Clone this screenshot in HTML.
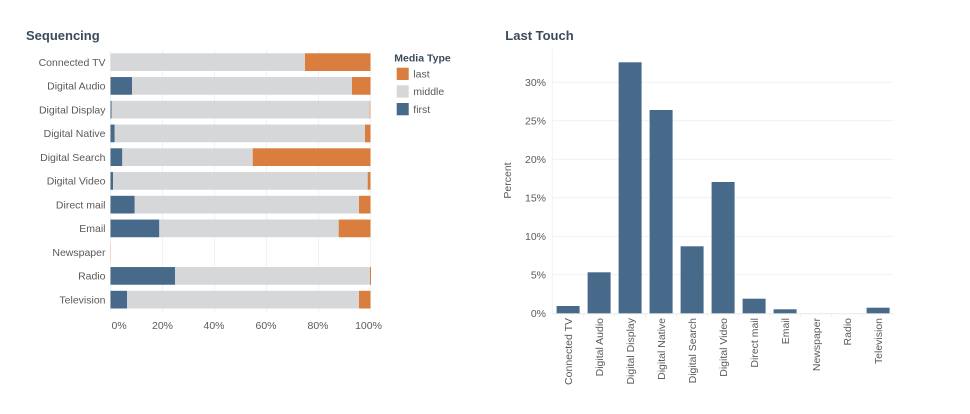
<!DOCTYPE html>
<html><head><meta charset="utf-8"><style>
html,body{margin:0;padding:0;background:#fff;}
svg{display:block;font-family:"Liberation Sans",sans-serif;}
.lbl{font-size:10.5px;fill:#5a5a5a;}
.ttl{font-size:13px;font-weight:bold;fill:#3b4a5e;}
</style></head><body>
<svg width="970" height="414" viewBox="0 0 970 414" xmlns="http://www.w3.org/2000/svg">
<rect width="970" height="414" fill="#fff"/>
<text class="ttl" x="26" y="40">Sequencing</text>
<!-- left grid -->
<g stroke="#f1f1f1" stroke-width="1">
<line x1="110.5" y1="50" x2="110.5" y2="312"/>
<line x1="162.5" y1="50" x2="162.5" y2="312"/>
<line x1="214.5" y1="50" x2="214.5" y2="312"/>
<line x1="266.5" y1="50" x2="266.5" y2="312"/>
<line x1="318.5" y1="50" x2="318.5" y2="312"/>
<line x1="370.5" y1="50" x2="370.5" y2="312"/>
</g>
<g>
<!-- CTV -->
<rect x="110.5" y="53.3" width="194.5" height="17.7" fill="#d6d7d9"/>
<rect x="305" y="53.3" width="65.5" height="17.7" fill="#d97e3e"/>
<!-- DA -->
<rect x="110.5" y="77.05" width="21.5" height="17.7" fill="#486a8a"/>
<rect x="132" y="77.05" width="220" height="17.7" fill="#d6d7d9"/>
<rect x="352" y="77.05" width="18.5" height="17.7" fill="#d97e3e"/>
<!-- DD -->
<rect x="110.5" y="100.8" width="1" height="17.7" fill="#486a8a"/>
<rect x="111.5" y="100.8" width="258" height="17.7" fill="#d6d7d9"/>
<rect x="369.5" y="100.8" width="1" height="17.7" fill="#e8b08a"/>
<!-- DN -->
<rect x="110.5" y="124.55" width="4.2" height="17.7" fill="#486a8a"/>
<rect x="114.7" y="124.55" width="250.3" height="17.7" fill="#d6d7d9"/>
<rect x="365" y="124.55" width="5.5" height="17.7" fill="#d97e3e"/>
<!-- DS -->
<rect x="110.5" y="148.3" width="11.8" height="17.7" fill="#486a8a"/>
<rect x="122.3" y="148.3" width="130.4" height="17.7" fill="#d6d7d9"/>
<rect x="252.7" y="148.3" width="117.8" height="17.7" fill="#d97e3e"/>
<!-- DV -->
<rect x="110.5" y="172.05" width="2.5" height="17.7" fill="#486a8a"/>
<rect x="113" y="172.05" width="254.7" height="17.7" fill="#d6d7d9"/>
<rect x="367.7" y="172.05" width="2.8" height="17.7" fill="#d97e3e"/>
<!-- DM -->
<rect x="110.5" y="195.8" width="24.2" height="17.7" fill="#486a8a"/>
<rect x="134.7" y="195.8" width="224.3" height="17.7" fill="#d6d7d9"/>
<rect x="359" y="195.8" width="11.5" height="17.7" fill="#d97e3e"/>
<!-- Email -->
<rect x="110.5" y="219.55" width="48.8" height="17.7" fill="#486a8a"/>
<rect x="159.3" y="219.55" width="179.4" height="17.7" fill="#d6d7d9"/>
<rect x="338.7" y="219.55" width="31.8" height="17.7" fill="#d97e3e"/>
<!-- Newspaper -->
<rect x="110.3" y="243.3" width="0.6" height="17.7" fill="#f0c8aa"/>
<!-- Radio -->
<rect x="110.5" y="267.05" width="64.5" height="17.7" fill="#486a8a"/>
<rect x="175" y="267.05" width="195" height="17.7" fill="#d6d7d9"/>
<rect x="370" y="267.05" width="1" height="17.7" fill="#d97e3e"/>
<!-- TV -->
<rect x="110.5" y="290.8" width="16.5" height="17.7" fill="#486a8a"/>
<rect x="127" y="290.8" width="232" height="17.7" fill="#d6d7d9"/>
<rect x="359" y="290.8" width="11.5" height="17.7" fill="#d97e3e"/>
</g>
<g class="lbl" text-anchor="end">
<text x="105.5" y="65.8">Connected TV</text>
<text x="105.5" y="89.5">Digital Audio</text>
<text x="105.5" y="113.3">Digital Display</text>
<text x="105.5" y="137">Digital Native</text>
<text x="105.5" y="160.8">Digital Search</text>
<text x="105.5" y="184.5">Digital Video</text>
<text x="105.5" y="208.3">Direct mail</text>
<text x="105.5" y="232">Email</text>
<text x="105.5" y="255.8">Newspaper</text>
<text x="105.5" y="279.5">Radio</text>
<text x="105.5" y="303.3">Television</text>
</g>
<g class="lbl">
<text x="111.5" y="329">0%</text>
<text x="162.5" y="329" text-anchor="middle">20%</text>
<text x="214" y="329" text-anchor="middle">40%</text>
<text x="266" y="329" text-anchor="middle">60%</text>
<text x="318" y="329" text-anchor="middle">80%</text>
<text x="368.5" y="329" text-anchor="middle">100%</text>
</g>
<!-- legend -->
<text x="394.3" y="61.5" style="font-size:10.5px;font-weight:bold;fill:#3b4a5e">Media Type</text>
<rect x="396.7" y="67.7" width="12" height="12.3" fill="#d97e3e"/>
<rect x="396.7" y="85.3" width="12" height="12.3" fill="#d6d7d9"/>
<rect x="396.7" y="103" width="12" height="12.3" fill="#486a8a"/>
<g class="lbl">
<text x="413.3" y="77.5">last</text>
<text x="413.3" y="95.1">middle</text>
<text x="413.3" y="112.8">first</text>
</g>

<!-- right chart -->
<text class="ttl" x="505.3" y="40">Last Touch</text>
<g stroke="#f1f1f1" stroke-width="1">
<line x1="552.3" y1="49.3" x2="552.3" y2="313.3"/>
<line x1="552.3" y1="82.3" x2="893.3" y2="82.3"/>
<line x1="552.3" y1="120.8" x2="893.3" y2="120.8"/>
<line x1="552.3" y1="159.3" x2="893.3" y2="159.3"/>
<line x1="552.3" y1="197.8" x2="893.3" y2="197.8"/>
<line x1="552.3" y1="236.3" x2="893.3" y2="236.3"/>
<line x1="552.3" y1="274.8" x2="893.3" y2="274.8"/>
</g>
<line x1="552.3" y1="313.8" x2="893.3" y2="313.8" stroke="#e9e9e9" stroke-width="1"/>
<g stroke="#eeeeee" stroke-width="1">
<line x1="583.3" y1="313.8" x2="583.3" y2="317"/>
<line x1="614.3" y1="313.8" x2="614.3" y2="317"/>
<line x1="645.3" y1="313.8" x2="645.3" y2="317"/>
<line x1="676.3" y1="313.8" x2="676.3" y2="317"/>
<line x1="707.3" y1="313.8" x2="707.3" y2="317"/>
<line x1="738.3" y1="313.8" x2="738.3" y2="317"/>
<line x1="769.3" y1="313.8" x2="769.3" y2="317"/>
<line x1="800.3" y1="313.8" x2="800.3" y2="317"/>
<line x1="831.3" y1="313.8" x2="831.3" y2="317"/>
<line x1="862.3" y1="313.8" x2="862.3" y2="317"/>
</g>
<g class="lbl" text-anchor="end">
<text x="546" y="86.2">30%</text>
<text x="546" y="124.7">25%</text>
<text x="546" y="163.2">20%</text>
<text x="546" y="201.7">15%</text>
<text x="546" y="240.2">10%</text>
<text x="546" y="278.7">5%</text>
<text x="546" y="317.2">0%</text>
</g>
<text class="lbl" transform="translate(511,180.5) rotate(-90)" text-anchor="middle">Percent</text>
<g fill="#486a8a">
<rect x="556.6" y="306" width="23" height="7.3"/>
<rect x="587.6" y="272.3" width="23" height="41"/>
<rect x="618.6" y="62.3" width="23" height="251"/>
<rect x="649.6" y="110" width="23" height="203.3"/>
<rect x="680.6" y="246.3" width="23" height="67"/>
<rect x="711.6" y="182" width="23" height="131.3"/>
<rect x="742.6" y="298.7" width="23" height="14.6"/>
<rect x="773.6" y="309.3" width="23" height="4"/>
<rect x="866.6" y="307.7" width="23" height="5.6"/>
</g>
<g class="lbl" text-anchor="end">
<text transform="translate(571.8,318) rotate(-90)">Connected TV</text>
<text transform="translate(602.8,318) rotate(-90)">Digital Audio</text>
<text transform="translate(633.8,318) rotate(-90)">Digital Display</text>
<text transform="translate(664.8,318) rotate(-90)">Digital Native</text>
<text transform="translate(695.8,318) rotate(-90)">Digital Search</text>
<text transform="translate(726.8,318) rotate(-90)">Digital Video</text>
<text transform="translate(757.8,318) rotate(-90)">Direct mail</text>
<text transform="translate(788.8,318) rotate(-90)">Email</text>
<text transform="translate(819.8,318) rotate(-90)">Newspaper</text>
<text transform="translate(850.8,318) rotate(-90)">Radio</text>
<text transform="translate(881.8,318) rotate(-90)">Television</text>
</g>
</svg>
</body></html>
